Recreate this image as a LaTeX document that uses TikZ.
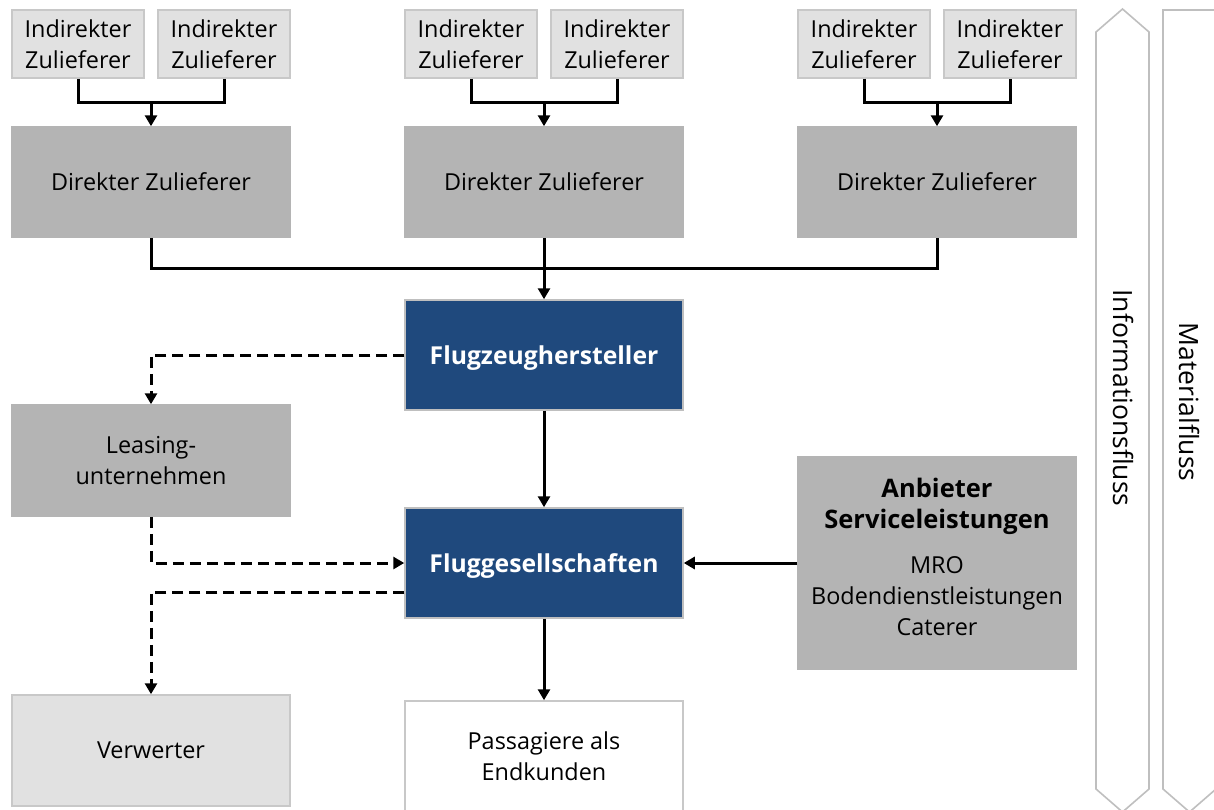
\documentclass[tikz,border=0pt]{standalone}
\usepackage{fontspec}
\setmainfont{Open Sans}
\usetikzlibrary{arrows.meta,calc}
\definecolor{lightbox}{HTML}{E1E1E1}
\definecolor{lightborder}{HTML}{C8C8C8}
\definecolor{midbox}{HTML}{B4B4B4}
\definecolor{darkblue}{HTML}{1F497D}
\definecolor{flowborder}{HTML}{BFBFBF}
\tikzset{
  txt/.style={font=\fontsize{23.4}{31}\selectfont, align=center, inner sep=0pt},
  indbox/.style={txt, fill=lightbox, draw=lightborder, line width=1.5pt, minimum width=132pt, minimum height=68pt},
  dirbox/.style={txt, fill=midbox, draw=midbox, line width=1.5pt, minimum width=278pt, minimum height=110pt},
  bluebox/.style={txt, font=\fontsize{24.7}{31}\selectfont\bfseries, text=white, fill=darkblue, draw=flowborder, line width=1.5pt, minimum width=278pt, minimum height=110pt},
  greybox/.style={txt, fill=lightbox, draw=lightborder, line width=1.5pt, minimum width=278pt, minimum height=111pt},
  whitebox/.style={txt, fill=white, draw=lightborder, line width=1.5pt, minimum width=278pt, minimum height=110pt},
  conn/.style={line width=3pt, black},
  arr/.style={conn, -{Triangle[length=11pt,width=12pt]}},
  dashconn/.style={conn, dash pattern=on 11pt off 6pt},
  dasharr/.style={dashconn, -{Triangle[length=11pt,width=12pt]}},
  flow/.style={draw=flowborder, line width=1.6pt, fill=white},
  flowtxt/.style={font=\fontsize{26.5}{32}\selectfont, inner sep=0pt, rotate=-90}
}
\begin{document}
\begin{tikzpicture}[x=1pt,y=-1pt]
\useasboundingbox (0,0) rectangle (1214,809);
% indirect suppliers
\node[indbox] (i1) at (78,44) {Indirekter\\Zulieferer};
\node[indbox] (i2) at (224,44) {Indirekter\\Zulieferer};
\node[indbox] (i3) at (471,44) {Indirekter\\Zulieferer};
\node[indbox] (i4) at (617,44) {Indirekter\\Zulieferer};
\node[indbox] (i5) at (864,44) {Indirekter\\Zulieferer};
\node[indbox] (i6) at (1010,44) {Indirekter\\Zulieferer};
% direct suppliers
\node[dirbox] (d1) at (151,182) {Direkter Zulieferer};
\node[dirbox] (d2) at (544,182) {Direkter Zulieferer};
\node[dirbox] (d3) at (937,182) {Direkter Zulieferer};
% main
\node[bluebox] (fh) at (544,355) {\rule{0pt}{24pt}Flugzeughersteller};
\node[bluebox] (fg) at (544,563) {\rule{0pt}{24pt}Fluggesellschaften};
\node[dirbox, minimum height=111pt] (le) at (151,460.5) {Leasing-\\unternehmen};
\node[greybox] (vw) at (151,750.5) {Verwerter};
\node[whitebox] (pa) at (544,756) {Passagiere als\\Endkunden};
\node[dirbox, minimum height=212pt] (an) at (937,563) {{\fontsize{25.5}{31}\selectfont\bfseries Anbieter}\\{\fontsize{25.5}{31}\selectfont\bfseries Serviceleistungen}\\[14pt]MRO\\Bodendienstleistungen\\Caterer\rule[-12pt]{0pt}{0pt}};
% connectors: indirect -> direct
\coordinate (j1) at (151,102);
\coordinate (j2) at (544,102);
\coordinate (j3) at (937,102);
\draw[conn] (i1.south) |- (j1) -| (i2.south);
\draw[arr] (j1) -- (d1.north);
\draw[conn] (i3.south) |- (j2) -| (i4.south);
\draw[arr] (j2) -- (d2.north);
\draw[conn] (i5.south) |- (j3) -| (i6.south);
\draw[arr] (j3) -- (d3.north);
% direct -> manufacturer
\coordinate (k) at (544,268.5);
\draw[conn] (d1.south) |- (k) -| (d3.south);
\draw[conn] (d2.south) -- (k);
\draw[arr] (k) -- (fh.north);
% manufacturer -> airlines -> passengers
\draw[arr] (fh.south) -- (fg.north);
\draw[arr] (fg.south) -- (pa.north);
\draw[arr] (an.west) -- (fg.east);
% dashed
\draw[dasharr] (fh.west) -| (le.north);
\draw[dasharr] (le.south) |- (fg.west);
\coordinate (fgw2) at ($(fg.west)+(0,29)$);
\draw[dasharr] (fgw2) -| (vw.north);
% flow arrows
\draw[flow] (1096,32) -- (1122.5,9) -- (1149,32) -- (1149,789) -- (1122.5,812) -- (1096,789) -- cycle;
\draw[flow] (1163,10) -- (1216,10) -- (1216,789) -- (1189.5,812) -- (1163,789) -- cycle;
\node[flowtxt] (inf) at (1123,398) {Informationsfluss};
\node[flowtxt] (mat) at (1189,402) {Materialfluss};
\end{tikzpicture}
\end{document}
